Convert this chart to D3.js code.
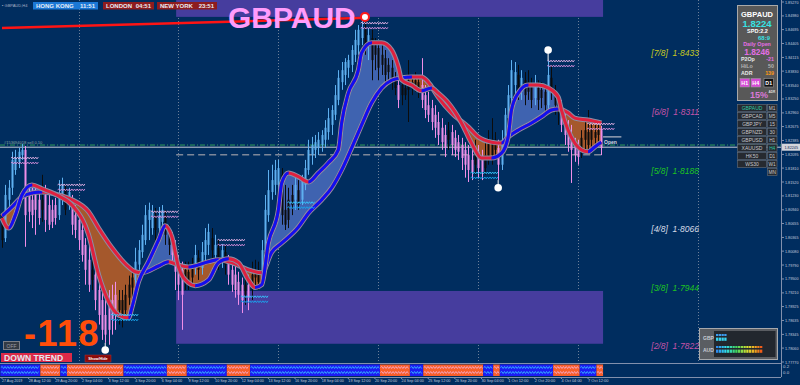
<!DOCTYPE html>
<html>
<head>
<meta charset="utf-8">
<script src="https://cdn.jsdelivr.net/npm/d3@7"></script>
<style>
html, body { margin:0; padding:0; background:#002d5f; overflow:hidden; }
svg { display:block; }
text { font-family:"Liberation Sans", Arial, sans-serif; }
</style>
</head>
<body>
<svg id="chart" width="800" height="385"></svg>
<script>
// ---- data ----
// H4 bars, [open, high, low, close]
const bars = [
[1.8073,1.8083,1.8015,1.8031],[1.8035,1.8146,1.8027,1.8125],[1.8115,1.8156,1.8094,1.8140],[1.8140,1.8215,1.8125,1.8198],
[1.8177,1.8219,1.8167,1.8202],[1.8194,1.8223,1.8181,1.8215],[1.8208,1.8231,1.8198,1.8219],[1.8219,1.8227,1.8017,1.8083],
[1.8125,1.8146,1.8069,1.8090],[1.8115,1.8140,1.8056,1.8083],[1.8125,1.8146,1.8042,1.8094],[1.8115,1.8131,1.8063,1.8077],
[1.8094,1.8167,1.8069,1.8115],[1.8125,1.8146,1.8048,1.8073],[1.8104,1.8125,1.8052,1.8063],[1.8094,1.8115,1.8056,1.8069],
[1.8104,1.8119,1.8063,1.8077],[1.8083,1.8156,1.8073,1.8125],[1.8115,1.8161,1.8104,1.8146],[1.8135,1.8146,1.8083,1.8094],
[1.8104,1.8140,1.8094,1.8131],[1.8115,1.8125,1.8042,1.8063],[1.8083,1.8104,1.8035,1.8052],[1.8073,1.8090,1.8010,1.8031],
[1.8052,1.8069,1.7986,1.8000],[1.8021,1.8035,1.7938,1.7969],[1.7990,1.8021,1.7923,1.7938],[1.7969,1.8000,1.7927,1.7948],
[1.7959,1.7986,1.7885,1.7906],[1.7927,1.7948,1.7855,1.7875],[1.7906,1.7927,1.7823,1.7844],[1.7875,1.7906,1.7817,1.7834],
[1.7896,1.7927,1.7813,1.7844],[1.7906,1.7938,1.7834,1.7865],[1.7917,1.7944,1.7844,1.7875],[1.7885,1.7927,1.7855,1.7906],
[1.7906,1.7927,1.7849,1.7875],[1.7885,1.7938,1.7869,1.7917],[1.7911,1.7957,1.7896,1.7938],[1.7932,1.7969,1.7906,1.7953],
[1.7948,1.8015,1.7938,1.7986],[1.7980,1.8031,1.7969,1.8010],[1.8006,1.8063,1.7994,1.8042],[1.8031,1.8104,1.8021,1.8083],
[1.8073,1.8109,1.8031,1.8094],[1.8056,1.8104,1.8042,1.8090],[1.8083,1.8098,1.8031,1.8052],[1.8056,1.8100,1.8042,1.8083],
[1.8069,1.8104,1.8052,1.8094],[1.8083,1.8094,1.8021,1.8042],[1.8048,1.8063,1.8000,1.8021],[1.8031,1.8048,1.7986,1.8000],
[1.8010,1.8031,1.7927,1.7965],[1.7986,1.8000,1.7906,1.7938],[1.7969,1.7986,1.7844,1.7917],[1.7948,1.7986,1.7927,1.7969],
[1.7965,1.7986,1.7927,1.7944],[1.7953,1.7994,1.7938,1.7980],[1.7973,1.8021,1.7959,1.8000],[1.7994,1.8010,1.7948,1.7969],
[1.7973,1.8027,1.7959,1.8006],[1.8000,1.8056,1.7986,1.8031],[1.8021,1.8065,1.8000,1.8048],[1.8035,1.8056,1.7994,1.8010],
[1.8000,1.8042,1.7986,1.8021],[1.8015,1.8031,1.7969,1.7990],[1.7986,1.8023,1.7973,1.8010],[1.8006,1.8021,1.7959,1.7980],
[1.7986,1.8000,1.7938,1.7959],[1.7969,1.7986,1.7923,1.7938],[1.7959,1.7980,1.7911,1.7927],[1.7944,1.7965,1.7896,1.7917],
[1.7938,1.7953,1.7879,1.7906],[1.7917,1.7959,1.7896,1.7938],[1.7938,1.7959,1.7885,1.7911],[1.7927,1.7986,1.7906,1.7959],
[1.7953,1.7990,1.7932,1.7969],[1.7965,1.7986,1.7927,1.7944],[1.7953,1.8031,1.7938,1.8010],[1.8006,1.8125,1.7994,1.8094],
[1.8083,1.8177,1.8069,1.8135],[1.8131,1.8188,1.8115,1.8156],[1.8146,1.8198,1.8125,1.8177],[1.8146,1.8198,1.8125,1.8181],
[1.8167,1.8181,1.8063,1.8083],[1.8094,1.8146,1.8052,1.8063],[1.8073,1.8140,1.8056,1.8115],[1.8104,1.8146,1.8083,1.8125],
[1.8115,1.8161,1.8094,1.8146],[1.8135,1.8156,1.8094,1.8104],[1.8115,1.8167,1.8104,1.8156],[1.8146,1.8198,1.8135,1.8181],
[1.8177,1.8240,1.8167,1.8219],[1.8208,1.8246,1.8188,1.8229],[1.8219,1.8250,1.8202,1.8235],[1.8223,1.8256,1.8208,1.8240],
[1.8229,1.8260,1.8215,1.8250],[1.8240,1.8281,1.8223,1.8265],[1.8256,1.8306,1.8240,1.8285],[1.8271,1.8312,1.8250,1.8302],
[1.8292,1.8354,1.8281,1.8333],[1.8323,1.8385,1.8312,1.8369],[1.8360,1.8402,1.8344,1.8385],[1.8375,1.8410,1.8354,1.8402],
[1.8390,1.8417,1.8369,1.8406],[1.8396,1.8437,1.8381,1.8427],[1.8417,1.8469,1.8402,1.8448],[1.8437,1.8479,1.8417,1.8469],
[1.8452,1.8489,1.8437,1.8473],[1.8469,1.8485,1.8417,1.8437],[1.8437,1.8473,1.8406,1.8458],[1.8452,1.8469,1.8364,1.8406],
[1.8417,1.8452,1.8385,1.8437],[1.8431,1.8444,1.8364,1.8390],[1.8396,1.8437,1.8375,1.8417],[1.8410,1.8427,1.8348,1.8375],
[1.8381,1.8410,1.8360,1.8396],[1.8390,1.8406,1.8344,1.8364],[1.8369,1.8381,1.8333,1.8348],[1.8354,1.8369,1.8306,1.8323],
[1.8333,1.8369,1.8312,1.8354],[1.8348,1.8364,1.8323,1.8333],[1.8344,1.8406,1.8277,1.8364],[1.8360,1.8375,1.8333,1.8348],
[1.8354,1.8381,1.8340,1.8364],[1.8360,1.8375,1.8327,1.8344],[1.8354,1.8410,1.8306,1.8323],[1.8333,1.8354,1.8285,1.8302],
[1.8312,1.8340,1.8277,1.8292],[1.8306,1.8323,1.8260,1.8277],[1.8292,1.8312,1.8244,1.8265],[1.8277,1.8298,1.8229,1.8250],
[1.8265,1.8285,1.8219,1.8235],[1.8250,1.8271,1.8204,1.8223],[1.8240,1.8277,1.8219,1.8260],[1.8256,1.8271,1.8208,1.8229],
[1.8244,1.8260,1.8204,1.8219],[1.8235,1.8250,1.8198,1.8215],[1.8229,1.8244,1.8177,1.8202],[1.8219,1.8235,1.8161,1.8188],
[1.8208,1.8229,1.8152,1.8177],[1.8198,1.8219,1.8156,1.8173],[1.8188,1.8240,1.8167,1.8219],[1.8215,1.8229,1.8161,1.8181],
[1.8198,1.8219,1.8156,1.8173],[1.8181,1.8240,1.8167,1.8208],[1.8202,1.8260,1.8188,1.8240],[1.8240,1.8285,1.8188,1.8208],
[1.8219,1.8256,1.8198,1.8240],[1.8223,1.8240,1.8156,1.8188],[1.8188,1.8260,1.8177,1.8240],[1.8240,1.8306,1.8223,1.8292],
[1.8285,1.8354,1.8271,1.8333],[1.8327,1.8406,1.8312,1.8385],[1.8354,1.8402,1.8333,1.8381],[1.8375,1.8396,1.8323,1.8344],
[1.8340,1.8385,1.8323,1.8369],[1.8364,1.8381,1.8312,1.8333],[1.8340,1.8385,1.8323,1.8360],[1.8354,1.8369,1.8306,1.8323],
[1.8327,1.8375,1.8312,1.8354],[1.8348,1.8364,1.8302,1.8323],[1.8327,1.8360,1.8306,1.8344],[1.8340,1.8354,1.8292,1.8312],
[1.8312,1.8406,1.8302,1.8375],[1.8369,1.8396,1.8323,1.8340],[1.8344,1.8354,1.8292,1.8312],[1.8319,1.8333,1.8271,1.8298],
[1.8306,1.8323,1.8256,1.8271],[1.8281,1.8298,1.8229,1.8250],[1.8260,1.8281,1.8215,1.8229],[1.8240,1.8271,1.8150,1.8219],
[1.8229,1.8244,1.8194,1.8208],[1.8223,1.8240,1.8188,1.8204],[1.8219,1.8260,1.8202,1.8244],[1.8240,1.8277,1.8219,1.8260],
[1.8256,1.8302,1.8215,1.8229],[1.8240,1.8277,1.8223,1.8260],[1.8256,1.8271,1.8229,1.8244],[1.8250,1.8273,1.8235,1.8260],
[1.8260,1.8269,1.8208,1.8223]
];
// candle colour per bar: b = up (light blue), p = down (pink), k = neutral (black)
const barColors =
  "kbbbbbbppp" + "ppkppppbbk" + "bppppppkpp" + "pppppkkkkk" + "bbbbbbkbbk" +
  "kppppkkkbk" + "bbbkbkbkpp" + "pppkpkkkbb" + "bbbbkkkkbk" + "bbbbbbbbbb" +
  "bbbbbbbbbk" + "bkkkkkkkkp" + "kkkkkkpppp" + "ppppkppppp" + "ppkppkkkkp" +
  "bbbbbkbkkk" + "bkkkbkkkpp" + "ppppkkkkkk" + "p";

// fast and slow averages, [bar, price]
const fastMA = [
[0,1.8077],[2,1.8056],[4,1.8083],[6,1.8125],[9,1.8146],[12,1.8138],[17,1.8123],[21,1.8104],
[26,1.8042],[29,1.7959],[32,1.7903],[35,1.7875],[38,1.7869],[39,1.7890],[41,1.7944],[44,1.7986],
[47,1.8031],[49,1.8061],[51,1.8038],[53,1.7975],[56,1.7942],[58,1.7936],[62,1.7948],[65,1.7984],
[68,1.7992],[71,1.7984],[74,1.7948],[76,1.7932],[78,1.7938],[80,1.8025],[83,1.8094],[84,1.8150],
[86,1.8171],[89,1.8163],[92,1.8152],[95,1.8171],[98,1.8192],[101,1.8219],[102,1.8275],[104,1.8337],
[107,1.8385],[108,1.8421],[111,1.8442],[114,1.8442],[117,1.8427],[119,1.8392],[120,1.8365],[123,1.8354],
[126,1.8342],[129,1.8348],[131,1.8337],[134,1.8317],[138,1.8275],[141,1.8233],[144,1.8202],[147,1.8202],
[150,1.8212],[152,1.8246],[153,1.8302],[155,1.8337],[158,1.8354],[161,1.8354],[164,1.8348],[167,1.8329],
[168,1.8302],[170,1.8260],[172,1.8233],[174,1.8219],[176,1.8215],[178,1.8225],[180,1.8235]
];
const slowMA = [
[0,1.8081],[3,1.8100],[6,1.8121],[9,1.8129],[12,1.8131],[17,1.8125],[21,1.8115],[26,1.8090],
[29,1.8056],[33,1.8015],[38,1.7975],[40,1.7965],[42,1.7963],[47,1.7977],[50,1.7986],[53,1.7979],
[56,1.7975],[62,1.7986],[65,1.7990],[69,1.7984],[74,1.7969],[78,1.7963],[81,1.8006],[84,1.8025],
[89,1.8058],[92,1.8087],[96,1.8115],[99,1.8140],[102,1.8177],[105,1.8223],[108,1.8271],[111,1.8317],
[114,1.8348],[117,1.8364],[120,1.8369],[123,1.8371],[126,1.8371],[128,1.8360],[131,1.8329],[135,1.8296],
[140,1.8267],[143,1.8246],[147,1.8235],[150,1.8233],[152,1.8246],[155,1.8260],[159,1.8275],[162,1.8288],
[165,1.8302],[167,1.8304],[170,1.8296],[172,1.8285],[176,1.8281],[180,1.8275]
];
const longTrend = [[0,1.8473],[110,1.8494]];

// time axis: one label every 8 bars
const timeLabels = ["27 Aug 2019","28 Aug 12:00","29 Aug 20:00","2 Sep 04:00","3 Sep 12:00","4 Sep 20:00",
  "6 Sep 04:00","9 Sep 12:00","10 Sep 20:00","12 Sep 04:00","13 Sep 12:00","16 Sep 20:00","18 Sep 04:00",
  "19 Sep 12:00","20 Sep 20:00","24 Sep 04:00","25 Sep 12:00","26 Sep 20:00","30 Sep 04:00","1 Oct 12:00",
  "2 Oct 20:00","4 Oct 04:00","7 Oct 12:00"];
const gridBars = [23, 53, 83, 113, 143, 173, 209];
const priceTicks = ["1.85270","1.84980","1.84695","1.84405","1.84115","1.83830","1.83540","1.83250","1.82960",
  "1.82675","1.82385","1.82095","1.81810","1.81520","1.81230","1.80940","1.80655","1.80365","1.80080",
  "1.79790","1.79500","1.79210","1.78925","1.78635","1.78345","1.78060","1.77770"];

// Murrey math levels
const mmNames = ["[7/8]","[6/8]","[5/8]","[4/8]","[3/8]","[2/8]"];
const mmLevels = [1.8433, 1.8311, 1.8188, 1.8066, 1.7944, 1.7822];
const mmColors = ["#c8c81e","#c653a8","#1fc21f","#d6dae6","#1fc21f","#c653a8"];

// supply / demand zones [fromBar, toBar, high, low]
const zones = [[52.3, 180.5, 1.8540, 1.8496], [52.3, 180.5, 1.7925, 1.7815]];
// swing markers [bar, price, kind]
const swingMarks = [[109, 1.8496, "top"], [164, 1.8427, "up"], [149, 1.8140, "down"], [31, 1.7802, "down"]];
// wave markers [startBar, price, colour]
const waveMarks = [[3,1.8202,"p"],[17,1.8146,"p"],[45,1.8090,"p"],[65,1.8031,"p"],[108,1.8483,"p"],
  [164,1.8404,"p"],[176,1.8273,"p"],[33,1.7875,"c"],[72,1.7913,"c"],[86,1.8109,"c"],[141,1.8171,"c"]];
// lines
const bidPrice = 1.82245, orderPrice = 1.8229, dailyOpen = 1.8246, midZone = 1.8209;
// lower indicator window states [fromBar, toBar, state]
const trendSegs = [[0,11,"u"],[12,17,"d"],[18,19,"u"],[20,36,"d"],[37,49,"u"],[50,55,"d"],[56,67,"u"],
  [68,74,"d"],[75,113,"u"],[114,122,"d"],[123,126,"u"],[127,144,"d"],[145,147,"u"],[148,149,"d"],
  [150,165,"u"],[166,173,"d"],[174,178,"u"],[179,180,"d"]];

const sessions = [["HONG KONG","11:51"],["LONDON","04:51"],["NEW YORK","23:51"]];
const symbols = ["GBPAUD","GBPCAD","GBPJPY","GBPNZD","GBPUSD","XAUUSD","HK50","WS30"];
const periods = ["M1","M5","15","30","H1","H4","D1","W1","MN"];
const currencies = ["GBP","AUD"];
const strength = [[4,4],[17,17]];

// ---- drawing ----
const svg = d3.select("#chart");
const W = 800, H = 385, plotR = 781, plotB = 362, subT = 363, subB = 377;
const x = d3.scaleLinear().domain([0, 180]).range([2, 601.4]);
const y = d3.scaleLinear().domain([1.7777, 1.8527]).range([plotB, 2]);

svg.append("rect").attr("width", W).attr("height", H).attr("fill", "#002d5f");
const defs = svg.append("defs");
defs.append("clipPath").attr("id", "plot").append("rect")
  .attr("x", 0).attr("y", 0).attr("width", plotR).attr("height", plotB);

const main = svg.append("g").attr("clip-path", "url(#plot)");

// grid
main.selectAll(".grid").data(gridBars).join("line")
  .attr("x1", d => Math.round(x(d)) + 0.5).attr("x2", d => Math.round(x(d)) + 0.5)
  .attr("y1", 0).attr("y2", plotB)
  .attr("stroke", "#6d7f99").attr("stroke-dasharray", "1,2").attr("stroke-width", 1);

// zones
main.selectAll(".zone").data(zones).join("rect")
  .attr("x", d => x(d[0])).attr("width", d => x(d[1]) - x(d[0]))
  .attr("y", d => y(d[2])).attr("height", d => y(d[3]) - y(d[2]))
  .attr("fill", "#463d9e");

// horizontal lines
main.append("line").attr("x1", 0).attr("x2", plotR).attr("y1", y(orderPrice)).attr("y2", y(orderPrice))
  .attr("stroke", "#2f9a5a").attr("stroke-dasharray", "5,2,1,2");
main.append("line").attr("x1", 0).attr("x2", plotR).attr("y1", y(bidPrice)).attr("y2", y(bidPrice))
  .attr("stroke", "#c8ccd8").attr("stroke-width", 1);
main.append("line").attr("x1", x(52.3)).attr("x2", x(180.5)).attr("y1", y(midZone)).attr("y2", y(midZone))
  .attr("stroke", "#7d8799").attr("stroke-width", 1.5).attr("stroke-dasharray", "7,4");
main.append("text").attr("x", 4).attr("y", y(orderPrice) - 1.5)
  .attr("font-size", 4).attr("fill", "#8fa8a0").text("#153694018 sell 0.10");

// fills between averages
const curve = d3.curveMonotoneX;
const areaTo = (data, edge) => d3.area().x(d => x(d[0])).y0(edge).y1(d => y(d[1])).curve(curve)(data);
defs.append("clipPath").attr("id", "aboveSlow").append("path").attr("d", areaTo(slowMA, -10));
defs.append("clipPath").attr("id", "belowSlow").append("path").attr("d", areaTo(slowMA, 420));
defs.append("clipPath").attr("id", "aboveFast").append("path").attr("d", areaTo(fastMA, -10));
defs.append("clipPath").attr("id", "belowFast").append("path").attr("d", areaTo(fastMA, 420));

main.append("g").attr("clip-path", "url(#aboveSlow)")
  .append("g").attr("clip-path", "url(#belowFast)")
  .append("rect").attr("width", plotR).attr("height", plotB).attr("fill", "#3f63b0");
main.append("g").attr("clip-path", "url(#belowSlow)")
  .append("g").attr("clip-path", "url(#aboveFast)")
  .append("rect").attr("width", plotR).attr("height", plotB).attr("fill", "#a5582c");

// candles
const candleCol = { b: "#5eb0f0", p: "#f08ee8", k: "#0c0c0c" };
const cg = main.append("g");
cg.selectAll(".wick").data(bars).join("line")
  .attr("x1", (d, i) => Math.round(x(i)) + 0.5).attr("x2", (d, i) => Math.round(x(i)) + 0.5)
  .attr("y1", d => y(d[1])).attr("y2", d => y(d[2]))
  .attr("stroke", (d, i) => candleCol[barColors[i]]).attr("stroke-width", 1);
cg.selectAll(".body").data(bars).join("rect")
  .attr("x", (d, i) => Math.round(x(i)) - 0.5).attr("width", 2)
  .attr("y", d => y(Math.max(d[0], d[3])))
  .attr("height", d => Math.max(1, Math.abs(y(d[0]) - y(d[3]))))
  .attr("fill", (d, i) => candleCol[barColors[i]]);

// averages: grey outline, red when falling, blue when rising
const line = d3.line().x(d => x(d[0])).y(d => y(d[1])).curve(curve);
[slowMA, fastMA].forEach((ma, k) => {
  main.append("path").attr("d", line(ma)).attr("fill", "none")
    .attr("stroke", "#8b8fa6").attr("stroke-width", 5);
  main.append("path").attr("d", line(ma)).attr("fill", "none")
    .attr("stroke", "#e0203e").attr("stroke-width", 3);
  const cp = defs.append("clipPath").attr("id", "rise" + k);
  for (let i = 0; i < ma.length - 1; i++) {
    if (ma[i + 1][1] > ma[i][1]) {
      cp.append("rect").attr("x", x(ma[i][0])).attr("width", x(ma[i + 1][0]) - x(ma[i][0]) + 0.3)
        .attr("y", 0).attr("height", plotB);
    }
  }
  main.append("path").attr("d", line(ma)).attr("fill", "none").attr("clip-path", "url(#rise" + k + ")")
    .attr("stroke", "#1010f0").attr("stroke-width", 3);
});

// wave markers
function zig(x0, x1, yy, amp, step) {
  let p = "M" + x0 + "," + yy, up = true;
  for (let xx = x0 + step; xx <= x1; xx += step) { p += "L" + xx + "," + (yy + (up ? -amp : amp)); up = !up; }
  return p;
}
waveMarks.forEach(m => {
  const x0 = x(m[0]) - 1, x1 = x(m[0] + 8), yy = y(m[1]);
  const c = m[2] === "p" ? ["#e8b4e8", "#d890dc"] : ["#35c8ff", "#1aa6ee"];
  main.append("path").attr("d", zig(x0, x1, yy, 0.9, 1.3)).attr("fill", "none").attr("stroke", c[0]).attr("stroke-width", 0.9);
  main.append("path").attr("d", zig(x0, x1, yy + 5, 0.9, 1.3)).attr("fill", "none").attr("stroke", c[1]).attr("stroke-width", 0.9);
});

// long trend line
main.append("path").attr("d", d3.line().x(d => x(d[0])).y(d => y(d[1]))(longTrend))
  .attr("stroke", "#ff1414").attr("stroke-width", 2.5).attr("fill", "none");

// daily open stub
main.append("line").attr("x1", x(180.5)).attr("x2", x(186)).attr("y1", y(dailyOpen)).attr("y2", y(dailyOpen))
  .attr("stroke", "#b8bcc8").attr("stroke-width", 1.2);
main.append("text").attr("x", x(180.5) + 1).attr("y", y(dailyOpen) + 7)
  .attr("font-size", 5).attr("font-weight", "bold").attr("fill", "#d8d8e0").text("Open");

// swing markers
swingMarks.forEach(m => {
  const cx = x(m[0]), cy = y(m[1]);
  if (m[2] === "top") {
    main.append("circle").attr("cx", cx).attr("cy", cy).attr("r", 4).attr("fill", "#ffffff")
      .attr("stroke", "#ff1a1a").attr("stroke-width", 2);
  } else {
    const ext = m[2] === "up" ? y(bars[m[0]][1]) : y(bars[m[0]][2]);
    main.append("line").attr("x1", cx).attr("x2", cx).attr("y1", ext).attr("y2", cy).attr("stroke", "#fff");
    main.append("circle").attr("cx", cx).attr("cy", cy).attr("r", 3.8).attr("fill", "#ffffff");
  }
});

// Murrey labels
mmLevels.forEach((lv, i) => {
  main.append("text").attr("x", 699).attr("y", y(lv) + 9).attr("text-anchor", "end")
    .attr("font-size", 8.5).attr("font-style", "italic").attr("fill", mmColors[i])
    .text(mmNames[i] + "\u00a0\u00a0" + lv.toFixed(4).replace(".", "\u00b7"));
});

// title and sessions
svg.append("text").attr("x", 228).attr("y", 27.5).attr("font-size", 30).attr("font-weight", "bold")
  .attr("fill", "#ff9cfb").text("GBPAUD");
svg.append("text").attr("x", 2).attr("y", 6.5).attr("font-size", 4).attr("fill", "#a8b0c4").text("\u25aa GBPAUD,H4");
const sessX = [33, 103, 157], sessW = [65, 51, 60], sessFill = ["#1b78d6", "#8e1c1e", "#8e1c1e"];
sessions.forEach((s, i) => {
  svg.append("rect").attr("x", sessX[i]).attr("y", 2).attr("width", sessW[i]).attr("height", 7.5).attr("fill", sessFill[i]);
  svg.append("text").attr("x", sessX[i] + 3).attr("y", 8.2).attr("font-size", 6).attr("font-weight", "bold")
    .attr("fill", "#e8ecf4").text(s[0]);
  svg.append("text").attr("x", sessX[i] + sessW[i] - 3).attr("y", 8.2).attr("text-anchor", "end")
    .attr("font-size", 6).attr("font-weight", "bold").attr("fill", "#e8ecf4").text(s[1]);
});

// right price axis
svg.append("line").attr("x1", plotR + 0.5).attr("x2", plotR + 0.5).attr("y1", 0).attr("y2", subB)
  .attr("stroke", "#8290ac");
priceTicks.forEach(t => {
  const ty = y(+t);
  svg.append("line").attr("x1", plotR).attr("x2", plotR + 3).attr("y1", ty).attr("y2", ty).attr("stroke", "#8290ac");
  svg.append("text").attr("x", 785).attr("y", ty + 1.5).attr("font-size", 4.2)
    .attr("textLength", 13.5).attr("lengthAdjust", "spacingAndGlyphs").attr("fill", "#c4cbdc").text(t);
});
svg.append("rect").attr("x", plotR + 1).attr("y", y(bidPrice) - 3.5).attr("width", 18).attr("height", 7)
  .attr("fill", "#d4d6dc");
svg.append("text").attr("x", 784.5).attr("y", y(bidPrice) + 1.6).attr("font-size", 4.2)
  .attr("textLength", 13.5).attr("lengthAdjust", "spacingAndGlyphs").attr("fill", "#0a2450")
  .text(bidPrice.toFixed(5));

// lower indicator window
svg.append("line").attr("x1", 0).attr("x2", plotR).attr("y1", subT + 0.5).attr("y2", subT + 0.5).attr("stroke", "#8290ac");
svg.append("line").attr("x1", 0).attr("x2", plotR).attr("y1", subB + 0.5).attr("y2", subB + 0.5).attr("stroke", "#8290ac");
const segCol = { u: "#1c1cf4", d: "#f85e2a" };
trendSegs.forEach(s => {
  const x0 = x(s[0] - 0.5), x1 = x(s[1] + 0.5);
  svg.append("rect").attr("x", x0).attr("y", subT + 1.5).attr("width", x1 - x0).attr("height", subB - subT - 2.5)
    .attr("fill", segCol[s[2]]);
  const wc = s[2] === "u" ? "#39c6ff" : "#f4b0d6";
  svg.append("path").attr("d", zig(x0 + 0.5, x1 - 0.5, 367.5, 1, 1.4)).attr("fill", "none").attr("stroke", wc).attr("stroke-width", 0.8);
  svg.append("path").attr("d", zig(x0 + 0.5, x1 - 0.5, 372.5, 1, 1.4)).attr("fill", "none").attr("stroke", wc).attr("stroke-width", 0.8);
});
svg.append("text").attr("x", 783).attr("y", 367.5).attr("font-size", 4.4).attr("fill", "#c4cbdc").text("0.2");
svg.append("text").attr("x", 783).attr("y", 373.5).attr("font-size", 4.4).attr("fill", "#c4cbdc").text("0.0");

// time axis
timeLabels.forEach((t, i) => {
  const tx = x(i * 8);
  svg.append("line").attr("x1", tx).attr("x2", tx).attr("y1", subB).attr("y2", subB + 2).attr("stroke", "#8290ac");
  svg.append("text").attr("x", tx).attr("y", 382).attr("font-size", 4.2)
    .attr("textLength", t.length * 1.85).attr("lengthAdjust", "spacingAndGlyphs")
    .attr("fill", "#c4cbdc").text(t);
});

// bottom-left widgets
svg.append("text").attr("x", 24).attr("y", 346).attr("font-size", 36).attr("font-weight", "bold")
  .attr("letter-spacing", 1.5).attr("fill", "#ff4d0a").text("-118");
svg.append("rect").attr("x", 3.5).attr("y", 341.5).attr("width", 16).attr("height", 8).attr("fill", "#333a44").attr("stroke", "#7a7e88");
svg.append("text").attr("x", 11.5).attr("y", 347.6).attr("text-anchor", "middle").attr("font-size", 5).attr("fill", "#9a9ea8").text("OFF");
svg.append("rect").attr("x", 1).attr("y", 353).attr("width", 71).attr("height", 9).attr("fill", "#dc2a48");
svg.append("text").attr("x", 4).attr("y", 360.8).attr("font-family", "DejaVu Sans").attr("font-size", 8.6)
  .attr("font-weight", "bold").attr("fill", "#e6e6ee").text("DOWN TREND");
svg.append("rect").attr("x", 85).attr("y", 355).attr("width", 26).attr("height", 7).attr("fill", "#8a0a0a").attr("stroke", "#b03030").attr("stroke-width", 0.5);
svg.append("text").attr("x", 98).attr("y", 360).attr("text-anchor", "middle").attr("font-size", 3.8)
  .attr("font-weight", "bold").attr("fill", "#ffffff").text("Show/Hide");

// info panel
const P = svg.append("g").attr("font-family", "DejaVu Sans").attr("font-weight", "bold");
P.append("rect").attr("x", 737.5).attr("y", 5.5).attr("width", 40).attr("height", 95).attr("fill", "#585858").attr("stroke", "#a9a9a9");
const ptxt = (tx, ty, s, size, col, anchor) => P.append("text").attr("x", tx).attr("y", ty).attr("font-size", size)
  .attr("fill", col).attr("text-anchor", anchor || "middle").text(s);
ptxt(757, 17, "GBPAUD", 7.5, "#ffffff");
ptxt(757, 26.5, "1.8224", 9.5, "#36e2e4");
ptxt(757.5, 33, "SPD:2.2", 5.5, "#ffffff");
ptxt(764, 39.5, "68:9", 6, "#36e2e4");
ptxt(757, 46, "Daily Open", 5.3, "#e46ee4");
ptxt(757, 54.5, "1.8246", 8.3, "#e46ee4");
ptxt(741, 60.5, "P2Op", 5.3, "#e8e8e8", "start");
ptxt(774, 60.5, "-21", 5.3, "#e46ee4", "end");
ptxt(741, 67.5, "HiLo", 5.3, "#b4b4b4", "start");
ptxt(774, 67.5, "50", 5.3, "#b4b4b4", "end");
ptxt(741, 74.5, "ADR", 5.3, "#e8e8e8", "start");
ptxt(774, 74.5, "139", 5.3, "#ff9a14", "end");
[["H1", 740, "#d84ad8"], ["H4", 751, "#d84ad8"], ["D1", 764, "#111111"]].forEach(b => {
  P.append("rect").attr("x", b[1]).attr("y", 78.5).attr("width", 9.5).attr("height", 8.5).attr("fill", b[2]).attr("stroke", "#9a9a9a").attr("stroke-width", 0.6);
  ptxt(b[1] + 4.75, 85, b[0], 5.3, "#ffffff");
});
ptxt(759, 98, "15%", 9, "#d878d8");
ptxt(768.5, 92.5, "ADR", 3.2, "#dddddd", "start");

// symbol buttons
const S = svg.append("g").attr("font-family", "DejaVu Sans");
periods.forEach((p, i) => {
  const ty = 104.5 + 8 * i;
  if (i < symbols.length) {
    S.append("rect").attr("x", 737.5).attr("y", ty).attr("width", 29).attr("height", 7).attr("fill", "#262a30").attr("stroke", "#6c7078").attr("stroke-width", 0.6);
    S.append("text").attr("x", 752).attr("y", ty + 5.3).attr("text-anchor", "middle").attr("font-size", 5)
      .attr("fill", i === 0 ? "#2ec8a8" : "#c8c8cc").text(symbols[i]);
  }
  S.append("rect").attr("x", 767.5).attr("y", ty).attr("width", 9.5).attr("height", 7).attr("fill", "#262a30").attr("stroke", "#6c7078").attr("stroke-width", 0.6);
  S.append("text").attr("x", 772.2).attr("y", ty + 5.3).attr("text-anchor", "middle").attr("font-size", 4.8)
    .attr("fill", p === "H4" ? "#2ec8a8" : "#c8c8cc").text(p);
});

// currency strength meter
const C = svg.append("g");
C.append("rect").attr("x", 699.5).attr("y", 328.5).attr("width", 78).attr("height", 31).attr("fill", "#5a5d62").attr("stroke", "#a6a8ac");
C.append("rect").attr("x", 714).attr("y", 331).attr("width", 61.5).attr("height", 26).attr("fill", "#22272e");
const meter = d3.scaleLinear().domain([0, 3, 7, 11, 14, 17]).range(["#2f8cf0", "#30d8f0", "#40d860", "#d8e030", "#f0a020", "#f03a14"]);
currencies.forEach((c, ci) => {
  C.append("text").attr("x", 703).attr("y", 340 + ci * 12).attr("font-size", 5).attr("font-weight", "bold")
    .attr("fill", "#c8ccd4").text(c);
  strength[ci].forEach((n, r) => {
    for (let k = 0; k < n; k++) {
      C.append("rect").attr("x", 716 + k * 2.75).attr("y", 334 + ci * 12 + r * 3.6).attr("width", 2.3)
        .attr("height", r === 0 ? 2 : 3.2).attr("fill", ci === 0 ? (r === 0 ? "#3c9cf0" : "#38d4f0") : meter(k));
    }
  });
});
</script>
</body>
</html>
